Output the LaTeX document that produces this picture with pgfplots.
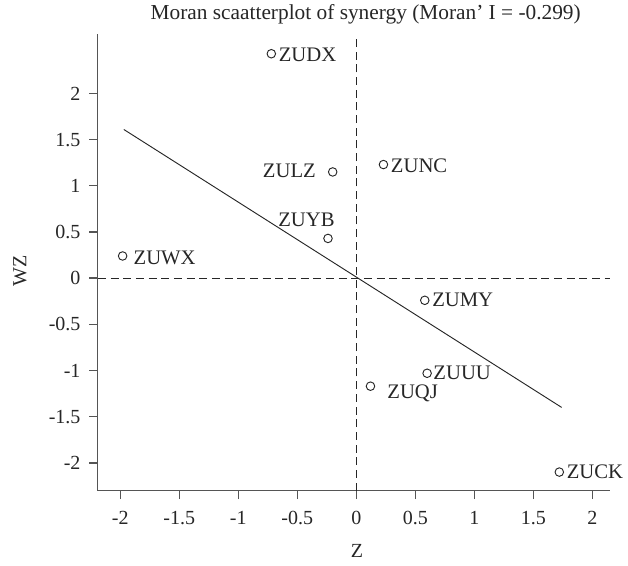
\documentclass[border=0pt]{standalone}
\usepackage{fontspec}
\setmainfont{Liberation Serif}
\usepackage{pgfplots}
\pgfplotsset{compat=1.18}

\definecolor{axisgray}{HTML}{555555}

\begin{document}
\begin{tikzpicture}
\begin{axis}[
    scale only axis,
    width=384pt, height=342pt,
    xmin=-2.19, xmax=2.15,
    ymin=-2.30, ymax=2.64,
    axis x line*=bottom,
    axis y line*=left,
    tick align=outside,
    major tick length=6.5pt,
    xtick={-2,-1.5,-1,-0.5,0,0.5,1,1.5,2},
    xticklabels={-2,-1.5,-1,-0.5,0,0.5,1,1.5,2},
    ytick={-2,-1.5,-1,-0.5,0,0.5,1,1.5,2},
    yticklabels={-2,-1.5,-1,-0.5,0,0.5,1,1.5,2},
    tick label style={font=\fontsize{15}{17}\selectfont, black!85},
    xticklabel style={yshift=-5.5pt},
    yticklabel style={xshift=-3pt},
    label style={font=\fontsize{15}{17}\selectfont, black!85},
    xlabel={Z},
    ylabel={WZ},
    xlabel style={at={(axis description cs:0.506,-0.132)}, anchor=center},
    ylabel style={at={(axis description cs:-0.152,0.482)}, anchor=center},
    every axis title shift=0pt,
    title={Moran scaatterplot of synergy (Moran’ I = -0.299)},
    title style={font=\fontsize{16}{18}\selectfont, black!85, at={(axis description cs:0.523,1.044)}, anchor=center},
    axis line style={axisgray, line width=1pt},
    every tick/.style={axisgray, line width=1pt},
    clip=false,
]
% frame of the whole picture
\path (rel axis cs:-0.191,-0.164) rectangle (rel axis cs:1.035,1.070);
% reference lines
\addplot[black!85, line width=0.7pt, dash pattern=on 6pt off 3.5pt] coordinates {(0,-2.30) (0,2.64)};
\addplot[black!85, line width=0.7pt, dash pattern=on 6pt off 3.5pt] coordinates {(-2.19,0) (2.15,0)};
% regression line
\addplot[black!85, line width=0.7pt] coordinates {(-1.97,1.61) (1.74,-1.40)};
% points
\addplot[only marks, mark=o, mark size=3.2pt, black!85, line width=0.7pt] coordinates {
    (-0.72,2.43) (-0.20,1.15) (0.23,1.23) (-0.24,0.43) (-1.98,0.24)
    (0.58,-0.24) (0.60,-1.03) (0.12,-1.17) (1.72,-2.10)
};
\begin{scope}[every node/.style={font=\fontsize{15.5}{17}\selectfont, text=black!85, inner sep=1pt}]
\node[anchor=west] at (axis cs:-0.67,2.42) {ZUDX};
\node[anchor=east] at (axis cs:-0.33,1.16) {ZULZ};
\node[anchor=west] at (axis cs:0.28,1.22) {ZUNC};
\node[anchor=east] at (axis cs:-0.17,0.63) {ZUYB};
\node[anchor=west] at (axis cs:-1.90,0.22) {ZUWX};
\node[anchor=west] at (axis cs:0.63,-0.24) {ZUMY};
\node[anchor=west] at (axis cs:0.64,-1.03) {ZUUU};
\node[anchor=west] at (axis cs:0.25,-1.25) {ZUQJ};
\node[anchor=west] at (axis cs:1.77,-2.10) {ZUCK};
\end{scope}
\end{axis}
\end{tikzpicture}
\end{document}
